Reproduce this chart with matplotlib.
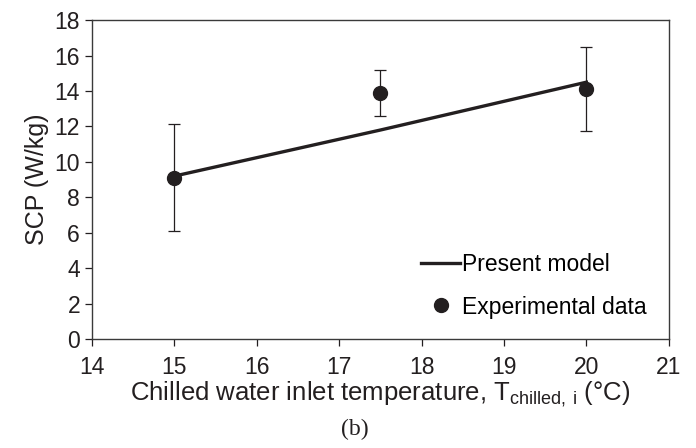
import matplotlib
matplotlib.use("Agg")
import matplotlib.pyplot as plt

# model curve
model_temp = [15, 17.5, 20]
model_scp = [9.2, 11.8, 14.5]

# experimental points with error bars
exp_temp = [15, 17.5, 20]
exp_scp = [9.12, 13.87, 14.12]
exp_err = [3.0, 1.3, 2.37]

plt.rcParams['font.family'] = ['Liberation Sans', 'DejaVu Sans']
plt.rcParams['mathtext.fontset'] = 'custom'
plt.rcParams['mathtext.rm'] = 'Liberation Sans'

ink = '#231f20'

fig = plt.figure(figsize=(6.96, 4.48), dpi=100)
ax = fig.add_axes([0.132, 0.243, 0.829, 0.712])

ax.plot(model_temp, model_scp, color=ink, lw=2.4, label='Present model', zorder=2)
ax.errorbar(exp_temp, exp_scp, yerr=exp_err, fmt='o', color=ink, ms=10,
            ecolor=ink, elinewidth=0.9, capsize=4, capthick=0.9,
            label='Experimental data', zorder=3)

ax.set_xlim(14, 21)
ax.set_ylim(0, 18)
ax.set_xticks(range(14, 22))
ax.set_yticks(range(0, 19, 2))
ax.tick_params(axis='both', direction='out', length=5, width=0.9,
               labelsize=16.5, colors=ink, right=False, top=False)
ax.tick_params(axis='x', pad=7)
for s in ax.spines.values():
    s.set_color('#3a3a3a')
    s.set_linewidth(1.0)

ax.set_ylabel('SCP (W/kg)', fontsize=18, color=ink, labelpad=4)
ax.set_xlabel(r'Chilled water inlet temperature, T$_{\mathregular{chilled,\,i}}$ (°C)',
              fontsize=18.5, color=ink, labelpad=0)

h, l = ax.get_legend_handles_labels()
h = [h[0], h[1][0]]
ax.legend(h, l, loc='lower left', bbox_to_anchor=(0.535, 0.0), frameon=False,
          fontsize=16.5, handlelength=1.7, handletextpad=0.1, labelspacing=0.85,
          numpoints=1)

fig.text(0.51, 0.042, '(b)', fontsize=17, family='Liberation Serif', ha='center',
         va='center', color=ink)

fig.savefig('out.png', dpi=100)
